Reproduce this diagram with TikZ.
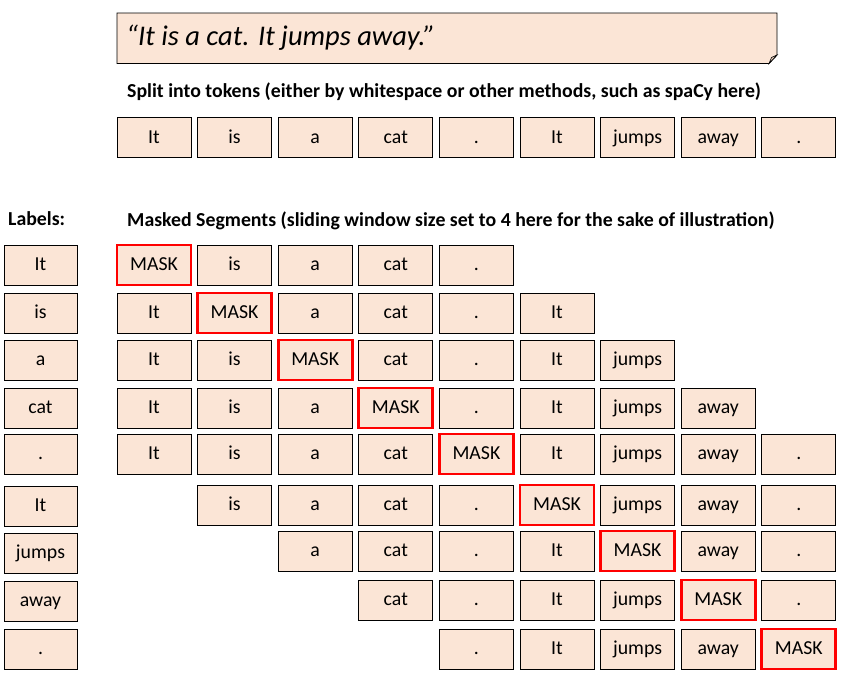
\documentclass[tikz,border=0pt]{standalone}
\usepackage{fontspec}
\setmainfont{Carlito}
\definecolor{tokfill}{HTML}{FBE5D6}
\definecolor{foldfill}{HTML}{E8CDBB}
\tikzset{
  tok/.style={draw=black, line width=0.9pt, fill=tokfill, minimum width=74pt, minimum height=40pt,
    inner sep=0pt, font=\fontsize{19.8}{21}\selectfont, text height=1.12em, text depth=0pt},
  masktok/.style={draw=red, line width=2.8pt},
  heading/.style={font=\fontsize{19.8}{22}\selectfont\bfseries, anchor=west, inner sep=0pt},
}
\begin{document}
\begin{tikzpicture}[x=1pt,y=-1pt]
\useasboundingbox (0,0) rectangle (850,683);
% banner
\path[draw=black, line width=0.9pt, fill=tokfill] (117,13) -- (777,13) -- (777,55) -- (769,63.5) -- (117,63.5) -- cycle;
\filldraw[draw=black, line width=0.6pt, fill=foldfill] (769,63.5) -- (771.5,57.5) -- (777,55) -- cycle;
\node[anchor=west, inner sep=0pt, font=\fontsize{28.5}{31}\selectfont\itshape] (sent) at (126,38) {“It is a cat. It jumps away.”};
% headings
\node[heading] (split) at (127,92) {Split into tokens (either by whitespace or other methods, such as spaCy here)};
\node[heading] (lab) at (8,219) {Labels:};
\node[heading] (masked) at (127,221) {Masked Segments (sliding window size set to 4 here for the sake of illustration)};
% token row
\foreach \c/\w in {0/It,1/is,2/a,3/cat,4/{.},5/It,6/jumps,7/away,8/{.}}{
  \node[tok] (t\c) at ({154+80.6*\c},137.5) {\w};
}
% labels
\foreach \r/\y/\w in {0/265/It,1/313/is,2/360/a,3/408/cat,4/454/{.},5/506/It,6/553/jumps,7/601/away,8/649/{.}}{
  \node[tok, minimum width=73pt] (l\r) at (40.5,\y) {\w};
}
% masked segments
\foreach \r/\y in {0/265,1/313,2/360,3/408,4/454,5/505,6/551,7/600,8/649}{
  \foreach \c/\w in {0/It,1/is,2/a,3/cat,4/{.},5/It,6/jumps,7/away,8/{.}}{
    \pgfmathtruncatemacro\dd{abs(\r-\c)}
    \ifnum\dd<5
      \ifnum\r=\c
        \node[tok, masktok] (s\r-\c) at ({154+80.6*\c},\y) {MASK};
      \else
        \node[tok] (s\r-\c) at ({154+80.6*\c},\y) {\w};
      \fi
    \fi
  }
}
\end{tikzpicture}
\end{document}
